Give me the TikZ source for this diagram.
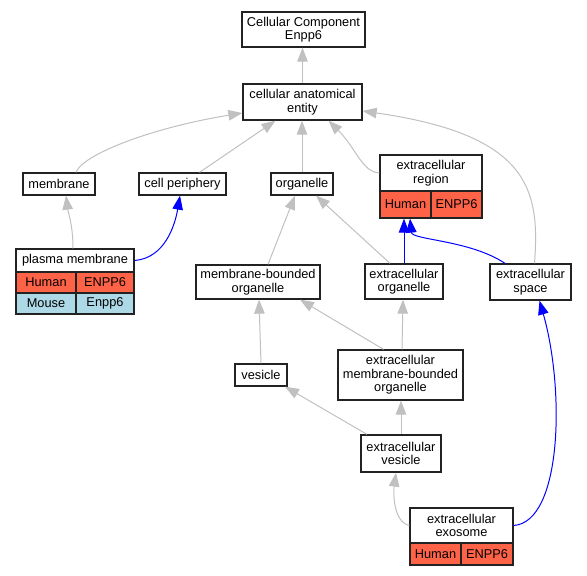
\documentclass[tikz,border=0pt]{standalone}
\usepackage{fontspec}
\setmainfont{Liberation Sans}
\usetikzlibrary{arrows.meta}
\definecolor{edgegray}{HTML}{C0C0C0}
\definecolor{human}{HTML}{FF6347}
\definecolor{mouse}{HTML}{ADD8E6}
\definecolor{border}{HTML}{222222}
\tikzset{
  box/.style={draw=border, line width=1.3pt, fill=white, align=center, inner sep=0pt,
    font=\fontsize{12.8}{13.6}\selectfont},
  gedge/.style={draw=edgegray, line width=1pt, -{Triangle[length=14pt,width=10.5pt]}},
  bedge/.style={draw=blue, line width=1pt, -{Triangle[length=14pt,width=10.5pt]}},
}
\begin{document}
\begin{tikzpicture}[x=1pt,y=-1pt]
\useasboundingbox (0,0) rectangle (587,576);
% nodes
\node[box, minimum width=123pt, minimum height=35pt] (cc) at (303.5,29.5) {Cellular Component\\Enpp6};
\node[box, minimum width=119pt, minimum height=36pt] (cae) at (302.5,102) {cellular anatomical\\entity};
\node[box, minimum width=72pt, minimum height=22pt] (mem) at (59,184) {membrane};
\node[box, minimum width=87pt, minimum height=22pt] (cp) at (182.5,184) {cell periphery};
\node[box, minimum width=62pt, minimum height=22pt] (org) at (302,184) {organelle};
% extracellular region table
\node[box, minimum width=102pt, minimum height=36pt] (er) at (431,173) {extracellular\\region};
\node[box, fill=human, minimum width=51pt, minimum height=27pt] (erh) at (405.5,204.5) {Human};
\node[box, fill=human, minimum width=51pt, minimum height=27pt] (erg) at (456.5,204.5) {ENPP6};
% plasma membrane table
\node[box, minimum width=118pt, minimum height=23pt] (pm) at (75,260.5) {plasma membrane};
\node[box, fill=human, minimum width=60pt, minimum height=21pt] (pmh) at (46,282.5) {Human};
\node[box, fill=human, minimum width=58pt, minimum height=21pt] (pmg) at (105,282.5) {ENPP6};
\node[box, fill=mouse, minimum width=60pt, minimum height=21pt] (pmm) at (46,303.5) {Mouse};
\node[box, fill=mouse, minimum width=58pt, minimum height=21pt] (pme) at (105,303.5) {Enpp6};
\node[box, minimum width=124pt, minimum height=34pt] (mbo) at (258,282) {membrane-bounded\\organelle};
\node[box, minimum width=78pt, minimum height=35pt] (eo) at (404,281.5) {extracellular\\organelle};
\node[box, minimum width=81pt, minimum height=36pt] (es) at (530.5,282) {extracellular\\space};
\node[box, minimum width=52pt, minimum height=22pt] (ves) at (261,375) {vesicle};
\node[box, minimum width=125pt, minimum height=50pt] (embo) at (400.5,375) {extracellular\\membrane-bounded\\organelle};
\node[box, minimum width=80pt, minimum height=37pt] (ev) at (401,453.5) {extracellular\\vesicle};
% extracellular exosome table
\node[box, minimum width=103pt, minimum height=35pt] (ex) at (461.5,525.5) {extracellular\\exosome};
\node[box, fill=human, minimum width=51pt, minimum height=22pt] (exh) at (435.5,554) {Human};
\node[box, fill=human, minimum width=52pt, minimum height=22pt] (exg) at (487,554) {ENPP6};
% edges
\draw[gedge] (cae.north) -- (cc.south -| cae.north);
\draw[gedge] ([xshift=17pt]mem.north) .. controls (82,155) and (150,128) .. ([yshift=-11pt]cae.west);
\draw[gedge] ([xshift=17pt]cp.north) -- ([xshift=-27pt]cae.south);
\draw[gedge] (org.north) -- (org.north |- cae.south);
\draw[gedge] (er.west) .. controls (362,172) and (356,148) .. ([xshift=26pt]cae.south);
\draw[gedge] ([xshift=4pt]es.north) .. controls (540,190) and (530,135) .. ([yshift=-9pt]cae.east);
\draw[gedge] ([xshift=-2pt]pm.north) .. controls (73,225) and (68,212) .. ([xshift=7pt]mem.south);
\draw[bedge] (pm.east) .. controls (165,258) and (175,225) .. ([xshift=-2.5pt]cp.south);
\draw[gedge] ([xshift=10pt]mbo.north) -- ([xshift=-7pt]org.south);
\draw[gedge] ([xshift=-14pt]eo.north) -- ([xshift=14pt]org.south);
\draw[bedge] (eo.north) -- (eo.north |- erh.south);
\draw[bedge] ([xshift=-25.5pt]es.north) .. controls (470,240) and (412,240) .. ([xshift=4.5pt]erh.south);
\draw[bedge] (ex.east) .. controls (562,522) and (565,390) .. ([xshift=9pt]es.south);
\draw[gedge] (ves.north) -- ([xshift=1pt]mbo.south);
\draw[gedge] ([xshift=-17pt]embo.north) -- ([xshift=42pt]mbo.south);
\draw[gedge] ([xshift=1.5pt]embo.north) -- ([xshift=-1pt]eo.south);
\draw[gedge] ([xshift=-34pt]ev.north) -- ([xshift=24pt]ves.south);
\draw[gedge] (ev.north) -- (ev.north |- embo.south);
\draw[gedge] (ex.west) .. controls (394,522) and (393,495) .. ([xshift=-5pt]ev.south);
\end{tikzpicture}
\end{document}
